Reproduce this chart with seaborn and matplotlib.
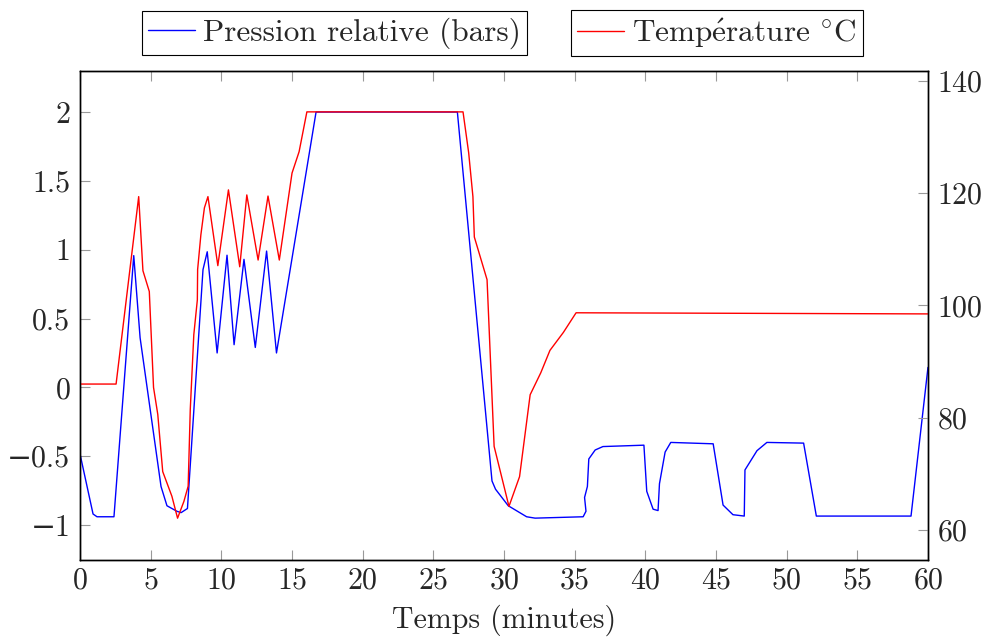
import pandas as pd
import matplotlib
matplotlib.use("Agg")
import matplotlib.pyplot as plt
import seaborn as sns

# pression relative (bars)
t_pres = [0, 0.92, 1.2, 2.4, 3.8, 4.25, 5.73, 6.15, 6.85, 7.15, 7.6, 8.7, 9.0, 9.7, 10.4,
          10.9, 11.6, 12.4, 13.2, 13.9, 16.7, 26.7, 29.15, 29.4, 30.3, 31.6, 32.2, 35.6,
          35.8, 35.7, 35.9, 36.0, 36.45, 37.0, 39.9, 40.1, 40.55, 40.9, 41.0, 41.4, 41.8,
          44.8, 45.5, 46.2, 47.0, 47.05, 47.9, 48.6, 51.2, 52.1, 58.8, 60]
pression = [-0.485, -0.92, -0.94, -0.94, 0.957, 0.36, -0.72, -0.86, -0.9, -0.91, -0.88,
            0.855, 0.985, 0.25, 0.96, 0.31, 0.93, 0.29, 0.99, 0.25, 2.0, 2.0, -0.68, -0.74,
            -0.86, -0.94, -0.95, -0.94, -0.9, -0.8, -0.72, -0.52, -0.455, -0.43, -0.42,
            -0.755, -0.885, -0.895, -0.70, -0.47, -0.40, -0.41, -0.855, -0.925, -0.935,
            -0.60, -0.46, -0.40, -0.405, -0.935, -0.935, 0.145]

# temperature (degC)
t_temp = [0, 2.55, 4.15, 4.45, 4.9, 5.2, 5.5, 5.85, 6.5, 6.9, 7.35, 7.65, 7.8, 8.05, 8.3,
          8.32, 8.55, 8.8, 9.05, 9.75, 10.5, 11.3, 11.8, 12.6, 13.3, 14.1, 15.0, 15.5, 16.05,
          27.1, 27.5, 27.8, 27.9, 28.8, 29.3, 30.35, 31.1, 31.85, 32.6, 33.25, 34.2, 35.1, 60]
temperature = [86.0, 86.0, 119.4, 106.2, 102.5, 85.4, 80.6, 70.4, 66.0, 62.1, 65.1, 67.8,
               81.5, 94.8, 101.0, 106.4, 112.6, 117.4, 119.4, 107.1, 120.6, 106.9, 119.7,
               108.1, 119.5, 108.1, 123.6, 127.4, 134.5, 134.5, 127.2, 119.4, 112.2, 104.6,
               74.9, 64.2, 69.5, 84.1, 88.0, 92.0, 95.2, 98.7, 98.5]

df_p = pd.DataFrame({"t": t_pres, "v": pression})
df_t = pd.DataFrame({"t": t_temp, "v": temperature})

sns.set_style("ticks")
plt.rcParams["font.family"] = ["cmr10", "DejaVu Serif"]
plt.rcParams["mathtext.fontset"] = "cm"
plt.rcParams["axes.formatter.use_mathtext"] = True
plt.rcParams["axes.unicode_minus"] = True
fs = 21.5

fig = plt.figure(figsize=(9.87, 6.37), dpi=100)
ax = fig.add_axes([0.0811, 0.1209, 0.8591, 0.7676])
ax2 = ax.twinx()

sns.lineplot(data=df_p, x="t", y="v", ax=ax, color="#0000ff", lw=1.0,
             sort=False, estimator=None, label="Pression relative (bars)", legend=False)
sns.lineplot(data=df_t, x="t", y="v", ax=ax2, color="#ff0000", lw=1.0,
             sort=False, estimator=None,
             label="Temp$\\acute{\\mathrm{e}}$rature $^{\\circ}$C", legend=False)

ax.set_xlim(0, 60)
ax.set_ylim(-1.254, 2.298)
ax2.set_ylim(54.65, 141.78)
ax.set_xticks(range(0, 61, 5))
ax.set_yticks([-1, -0.5, 0, 0.5, 1, 1.5, 2])
ax.set_yticklabels(["−1", "−0.5", "0", "0.5", "1", "1.5", "2"])
ax2.set_yticks([60, 80, 100, 120, 140])

ax.set_xlabel("Temps (minutes)", fontsize=fs, labelpad=7.5)
ax.set_ylabel("")
ax2.set_ylabel("")

ax.tick_params(axis="x", direction="in", length=7.5, width=0.8, color="#999999",
               labelsize=fs, pad=5, top=True)
ax.tick_params(axis="y", direction="in", length=7.5, width=0.8, color="#999999",
               labelsize=fs, pad=7, right=False)
ax2.tick_params(axis="y", direction="in", length=7.5, width=0.8, color="#999999",
                labelsize=fs, pad=6.5)
for a in (ax, ax2):
    for s in a.spines.values():
        s.set_color("black")
        s.set_linewidth(1.0)

h1, l1 = ax.get_legend_handles_labels()
h2, l2 = ax2.get_legend_handles_labels()
leg_kw = dict(fontsize=22.5, frameon=True, fancybox=False, edgecolor="black",
              framealpha=1, handlelength=1.5, handletextpad=0.25, borderpad=0.2,
              borderaxespad=0)
lg1 = fig.legend(h1, l1, loc="center", bbox_to_anchor=(334.5 / 987, 1 - 33 / 637), **leg_kw)
lg1.get_frame().set_linewidth(0.8)
lg2 = fig.legend(h2, l2, loc="center", bbox_to_anchor=(717 / 987, 1 - 33 / 637), **leg_kw)
lg2.get_frame().set_linewidth(0.8)

fig.savefig("out.png", dpi=100)
